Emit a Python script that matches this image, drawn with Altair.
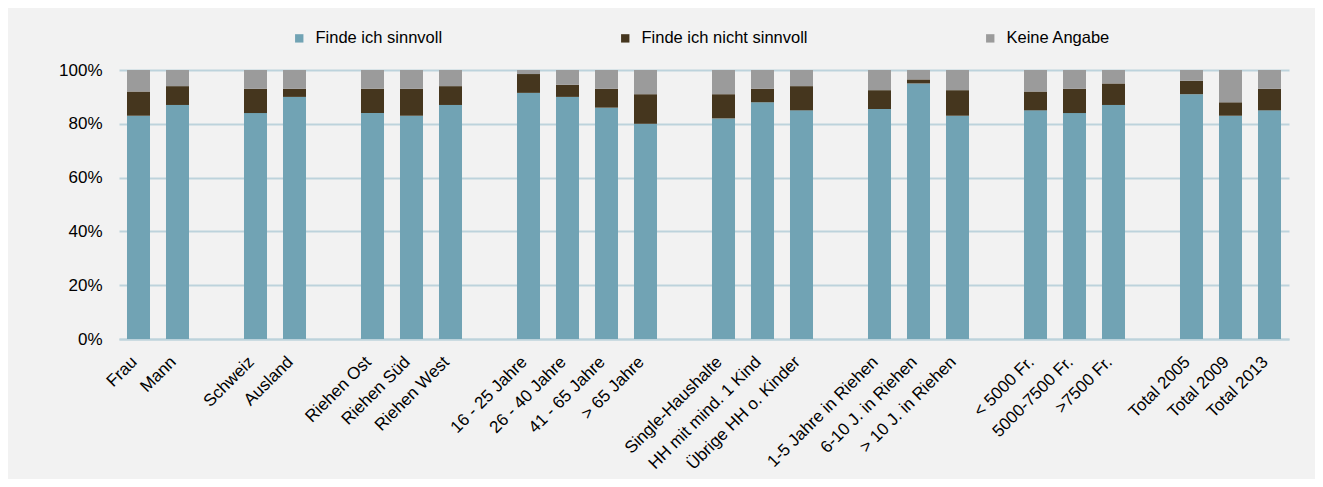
import altair as alt
import pandas as pd

categories = [
    "Frau", "Mann", "_gap1",
    "Schweiz", "Ausland", "_gap2",
    "Riehen Ost", "Riehen Süd", "Riehen West", "_gap3",
    "16 - 25 Jahre", "26 - 40 Jahre", "41 - 65 Jahre", "> 65 Jahre", "_gap4",
    "Single-Haushalte", "HH mit mind. 1 Kind", "Übrige HH o. Kinder", "_gap5",
    "1-5 Jahre in Riehen", "6-10 J. in Riehen", "> 10 J. in Riehen", "_gap6",
    "< 5000 Fr.", "5000-7500 Fr.", ">7500 Fr.", "_gap7",
    "Total 2005", "Total 2009", "Total 2013",
]

bar_categories = [c for c in categories if not c.startswith("_gap")]

sinnvoll = [83, 87, 84, 90, 84, 83, 87, 91.5, 90, 86, 80, 82, 88, 85, 85.5, 95, 83, 85, 84, 87, 91, 83, 85]
nicht_sinnvoll = [9, 7, 9, 3, 9, 10, 7, 7, 4.5, 7, 11, 9, 5, 9, 7, 1.5, 9.5, 7, 9, 8, 5, 5, 8]
keine_angabe = [round(100 - a - b, 1) for a, b in zip(sinnvoll, nicht_sinnvoll)]

series = ["Finde ich sinnvoll", "Finde ich nicht sinnvoll", "Keine Angabe"]
colors = ["#71A3B4", "#45361E", "#9B9B9B"]

rows = []
for i, cat in enumerate(bar_categories):
    for k, (name, vals) in enumerate(zip(series, [sinnvoll, nicht_sinnvoll, keine_angabe])):
        rows.append({"Kategorie": cat, "Antwort": name, "Wert": vals[i] / 100.0, "order": k})
df = pd.DataFrame(rows)

font = "Liberation Sans"
fs = 17

chart = (
    alt.Chart(df)
    .mark_bar()
    .encode(
        x=alt.X(
            "Kategorie:N",
            sort=categories,
            scale=alt.Scale(domain=categories, paddingInner=0.41, paddingOuter=0.205),
            axis=alt.Axis(
                title=None,
                labelAngle=-45,
                labelAlign="right",
                labelBaseline="middle",
                labelPadding=20,
                labelOffset=-4,
                ticks=False,
                tickSize=0,
                domain=True,
                domainColor="#BDD3DC",
                domainWidth=2,
                grid=False,
                labelExpr="indexof(datum.value, '_gap') == 0 ? '' : datum.value",
                labelFont=font,
                labelFontSize=fs,
                labelColor="#000000",
                labelOverlap=False,
                labelLimit=300,
            ),
        ),
        y=alt.Y(
            "Wert:Q",
            stack="zero",
            scale=alt.Scale(domain=[0, 1], nice=False),
            axis=alt.Axis(
                title=None,
                format=".0%",
                values=[0, 0.2, 0.4, 0.6, 0.8, 1.0],
                ticks=False,
                tickSize=0,
                domain=False,
                grid=True,
                gridColor="#BDD3DC",
                gridWidth=2,
                labelPadding=17,
                labelFont=font,
                labelFontSize=fs,
                labelColor="#000000",
            ),
        ),
        color=alt.Color(
            "Antwort:N",
            sort=series,
            scale=alt.Scale(domain=series, range=colors),
            legend=alt.Legend(
                title=None,
                orient="none",
                direction="horizontal",
                legendX=172,
                legendY=-40,
                columnPadding=174,
                symbolType="square",
                symbolSize=70,
                symbolStrokeWidth=0,
                labelOffset=8,
                labelFont=font,
                labelFontSize=16.5,
                labelColor="#000000",
                labelLimit=400,
                padding=0,
            ),
        ),
        order=alt.Order("order:Q", sort="ascending"),
    )
    .properties(
        width=1170,
        height=269,
        background="#F2F2F2",
        padding={"left": 111, "top": 62, "right": 26, "bottom": 140},
        autosize=alt.AutoSizeParams(type="none"),
    )
    .configure_view(stroke=None)
)

chart.save("out.html", embed_options={"renderer": "svg", "actions": False})
